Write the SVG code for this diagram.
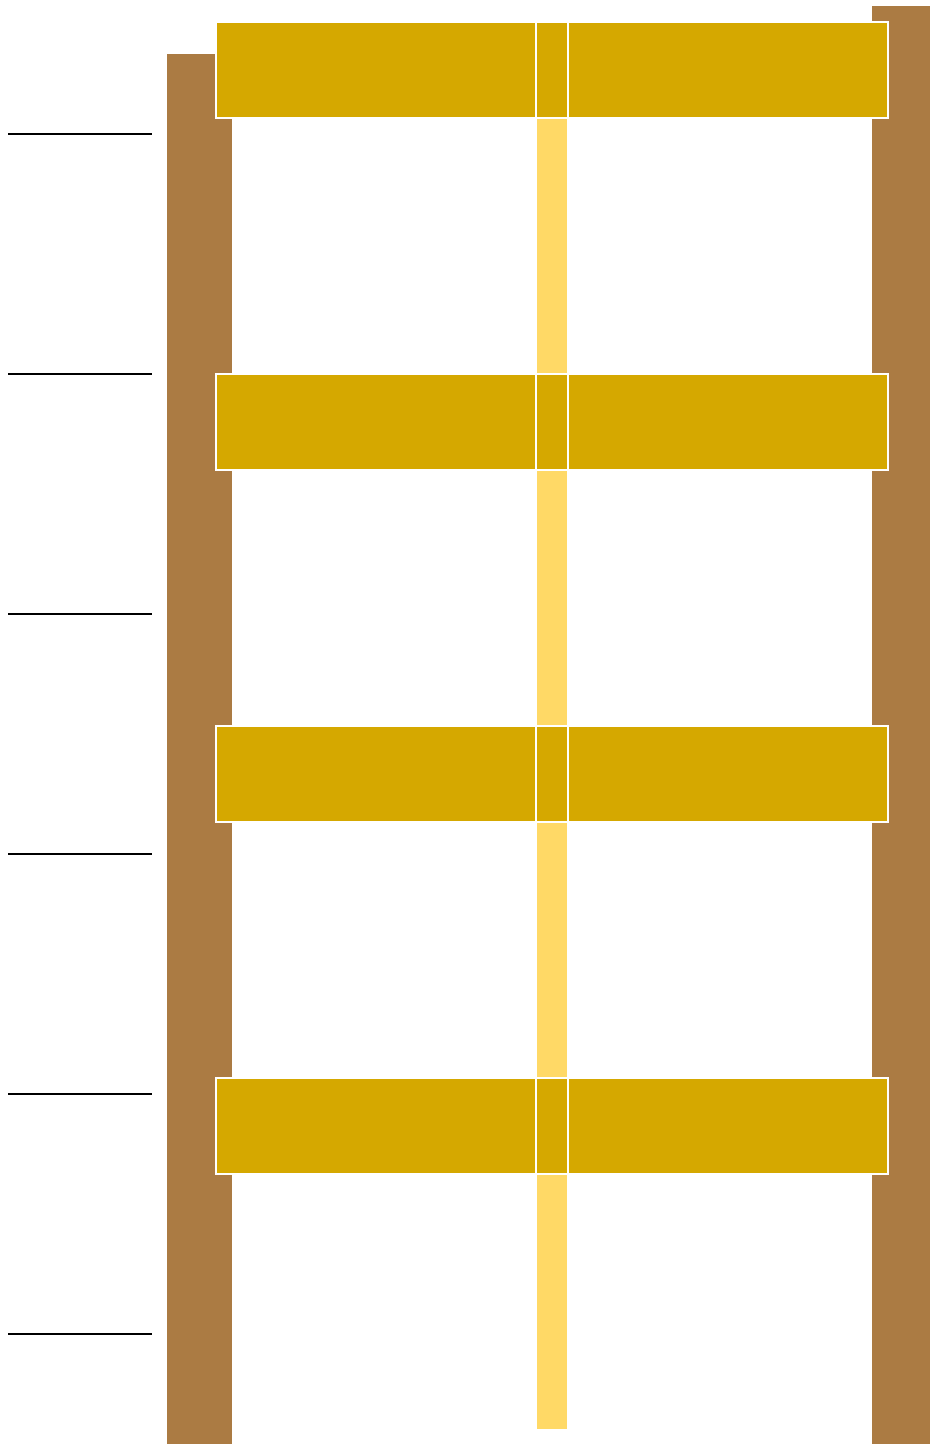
<svg xmlns="http://www.w3.org/2000/svg" width="930" height="1444" viewBox="0 0 930 1444">
<style>
.post{fill:#AB7B43}
.strip{fill:#FFD966}
.beam{fill:#D5A800;stroke:#FFFFFF;stroke-width:2}
.tick{stroke:#000000;stroke-width:2}
</style>
<rect width="930" height="1444" fill="#FFFFFF"/>
<g id="posts">
<rect class="post" x="167" y="54" width="65" height="1390"/>
<rect class="post" x="872" y="6" width="58" height="1438"/>
</g>
<rect id="strip" class="strip" x="537" y="118" width="30" height="1311"/>
<g id="beam1">
<rect class="beam" x="216" y="22" width="320" height="96"/>
<rect class="beam" x="536" y="22" width="32" height="96"/>
<rect class="beam" x="568" y="22" width="320" height="96"/>
</g>
<g id="beam2">
<rect class="beam" x="216" y="374" width="320" height="96"/>
<rect class="beam" x="536" y="374" width="32" height="96"/>
<rect class="beam" x="568" y="374" width="320" height="96"/>
</g>
<g id="beam3">
<rect class="beam" x="216" y="726" width="320" height="96"/>
<rect class="beam" x="536" y="726" width="32" height="96"/>
<rect class="beam" x="568" y="726" width="320" height="96"/>
</g>
<g id="beam4">
<rect class="beam" x="216" y="1078" width="320" height="96"/>
<rect class="beam" x="536" y="1078" width="32" height="96"/>
<rect class="beam" x="568" y="1078" width="320" height="96"/>
</g>
<g id="ticks">
<line class="tick" x1="8" y1="134" x2="152" y2="134"/>
<line class="tick" x1="8" y1="374" x2="152" y2="374"/>
<line class="tick" x1="8" y1="614" x2="152" y2="614"/>
<line class="tick" x1="8" y1="854" x2="152" y2="854"/>
<line class="tick" x1="8" y1="1094" x2="152" y2="1094"/>
<line class="tick" x1="8" y1="1334" x2="152" y2="1334"/>
</g>
</svg>
